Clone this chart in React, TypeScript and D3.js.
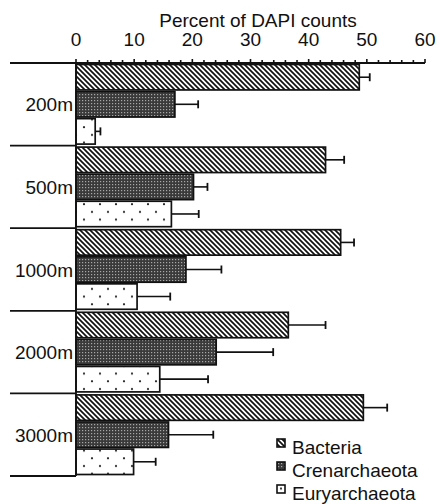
import React, { useRef, useEffect } from "react";
import * as d3 from "d3";

const depths = ["200m", "500m", "1000m", "2000m", "3000m"];
const seriesNames = ["Bacteria", "Crenarchaeota", "Euryarchaeota"];
const bacteria = [48.7, 42.9, 45.5, 36.5, 49.4];
const bacteriaErr = [1.8, 3.2, 2.3, 6.4, 4.1];
const crenarchaeota = [17.0, 20.2, 18.9, 24.1, 15.9];
const crenarchaeotaErr = [4.0, 2.4, 6.1, 9.8, 7.7];
const euryarchaeota = [3.3, 16.4, 10.5, 14.4, 9.9];
const euryarchaeotaErr = [0.9, 4.7, 5.7, 8.3, 3.8];
const majorTicks = [0, 10, 20, 30, 40, 50, 60];

const App: React.FC = () => {
  const ref = useRef<SVGSVGElement | null>(null);

  useEffect(() => {
    if (!ref.current) return;
    const svg = d3.select(ref.current);
    svg.selectAll("*").remove();

    const width = 440;
    const height = 504;
    const font = "'Liberation Sans', Arial, sans-serif";
    const fs = "19px";
    svg.attr("width", width).attr("height", height);

    // patterns
    const defs = svg.append("defs");
    const hatch = defs
      .append("pattern")
      .attr("id", "hatch")
      .attr("patternUnits", "userSpaceOnUse")
      .attr("width", 5)
      .attr("height", 5);
    hatch.append("rect").attr("width", 5).attr("height", 5).attr("fill", "#fff");
    hatch
      .append("path")
      .attr("d", "M0,0L5,5M-1,4L1,6M4,-1L6,1")
      .attr("stroke", "#111")
      .attr("stroke-width", 1.7);

    const dense = defs
      .append("pattern")
      .attr("id", "dense")
      .attr("patternUnits", "userSpaceOnUse")
      .attr("width", 3)
      .attr("height", 3);
    dense.append("rect").attr("width", 3).attr("height", 3).attr("fill", "#3a3a3a");
    dense
      .append("rect")
      .attr("x", 1)
      .attr("y", 1)
      .attr("width", 1.2)
      .attr("height", 1.2)
      .attr("fill", "#a8a8a8");

    const dots = defs
      .append("pattern")
      .attr("id", "dots")
      .attr("patternUnits", "userSpaceOnUse")
      .attr("width", 16)
      .attr("height", 15.4);
    dots.append("rect").attr("width", 16).attr("height", 15.4).attr("fill", "#fff");
    dots.append("circle").attr("cx", 4).attr("cy", 4).attr("r", 1.1).attr("fill", "#222");
    dots.append("circle").attr("cx", 12).attr("cy", 11.7).attr("r", 1.1).attr("fill", "#222");

    const fills = ["url(#hatch)", "url(#dense)", "url(#dots)"];

    // scales
    const x = d3.scaleLinear().domain([0, 60]).range([76, 425]);
    const y0 = d3.scaleBand().domain(depths).range([63, 476]);
    const y1 = d3
      .scaleBand()
      .domain(seriesNames)
      .range([1.5, y0.bandwidth() - 1.5])
      .paddingInner(0.06);

    const values = [bacteria, crenarchaeota, euryarchaeota];
    const errs = [bacteriaErr, crenarchaeotaErr, euryarchaeotaErr];
    const rows = depths.flatMap((d, i) =>
      seriesNames.map((s, j) => ({
        depth: d,
        series: s,
        value: values[j][i],
        err: errs[j][i],
        fill: fills[j],
      }))
    );

    const g = svg.append("g");

    // error bars
    const eb = g
      .append("g")
      .selectAll("g")
      .data(rows)
      .join("g")
      .attr(
        "transform",
        (d) => `translate(0,${y0(d.depth)! + y1(d.series)! + y1.bandwidth() / 2})`
      );
    eb.append("line")
      .attr("x1", (d) => x(d.value))
      .attr("x2", (d) => x(d.value + d.err))
      .attr("stroke", "#111")
      .attr("stroke-width", 1.6);
    eb.append("line")
      .attr("x1", (d) => x(d.value + d.err))
      .attr("x2", (d) => x(d.value + d.err))
      .attr("y1", -4)
      .attr("y2", 4)
      .attr("stroke", "#111")
      .attr("stroke-width", 1.8);

    // bars
    g.append("g")
      .selectAll("rect")
      .data(rows)
      .join("rect")
      .attr("x", x(0))
      .attr("y", (d) => y0(d.depth)! + y1(d.series)!)
      .attr("width", (d) => x(d.value) - x(0))
      .attr("height", y1.bandwidth())
      .attr("fill", (d) => d.fill)
      .attr("stroke", "#111")
      .attr("stroke-width", 1.7);

    // group separators on left
    const bounds = depths.map((d) => y0(d)! + y0.bandwidth());
    g.append("g")
      .selectAll("line")
      .data(bounds)
      .join("line")
      .attr("x1", 10)
      .attr("x2", x(0))
      .attr("y1", (d) => d)
      .attr("y2", (d) => d)
      .attr("stroke", "#111")
      .attr("stroke-width", 1.8);

    // vertical axis line
    g.append("line")
      .attr("x1", x(0))
      .attr("x2", x(0))
      .attr("y1", 63)
      .attr("y2", 476)
      .attr("stroke", "#111")
      .attr("stroke-width", 1.8);

    // depth labels
    g.append("g")
      .selectAll("text")
      .data(depths)
      .join("text")
      .attr("x", 73)
      .attr("y", (d) => y0(d)! + y0.bandwidth() / 2 + 7)
      .attr("text-anchor", "end")
      .attr("fill", "#111")
      .style("font-family", font)
      .style("font-size", fs)
      .text((d) => d);

    // top axis
    const minor = d3.range(0, 61, 2);
    const axisG = g.append("g").attr("transform", "translate(0,63)");
    axisG
      .append("line")
      .attr("x1", 10)
      .attr("x2", x(60))
      .attr("stroke", "#111")
      .attr("stroke-width", 2);
    axisG
      .selectAll("line.minor")
      .data(minor)
      .join("line")
      .attr("class", "minor")
      .attr("x1", (d) => x(d))
      .attr("x2", (d) => x(d))
      .attr("y1", 0)
      .attr("y2", (d) => (majorTicks.includes(d) ? -4 : -3))
      .attr("stroke", "#111")
      .attr("stroke-width", 1.6);
    axisG
      .selectAll("text")
      .data(majorTicks)
      .join("text")
      .attr("x", (d) => x(d))
      .attr("y", -17)
      .attr("text-anchor", "middle")
      .attr("fill", "#111")
      .style("font-family", font)
      .style("font-size", fs)
      .text((d) => d);

    // title
    svg
      .append("text")
      .attr("x", 258)
      .attr("y", 27)
      .attr("text-anchor", "middle")
      .attr("fill", "#111")
      .style("font-family", font)
      .style("font-size", fs)
      .text("Percent of DAPI counts");

    // legend
    const leg = svg
      .append("g")
      .selectAll("g")
      .data(seriesNames)
      .join("g")
      .attr("transform", (_d, i) => `translate(277,${454 + i * 23})`);
    leg
      .append("rect")
      .attr("y", -15)
      .attr("width", 8)
      .attr("height", 8)
      .attr("fill", (_d, i) => fills[i])
      .attr("stroke", "#111")
      .attr("stroke-width", 1.6);
    leg
      .append("text")
      .attr("x", 15)
      .attr("fill", "#111")
      .style("font-family", font)
      .style("font-size", fs)
      .text((d) => d);
  }, []);

  return (
    <svg
      ref={ref}
      style={{ position: "absolute", left: 0, top: 0, background: "#fff" }}
    ></svg>
  );
};

export default App;
